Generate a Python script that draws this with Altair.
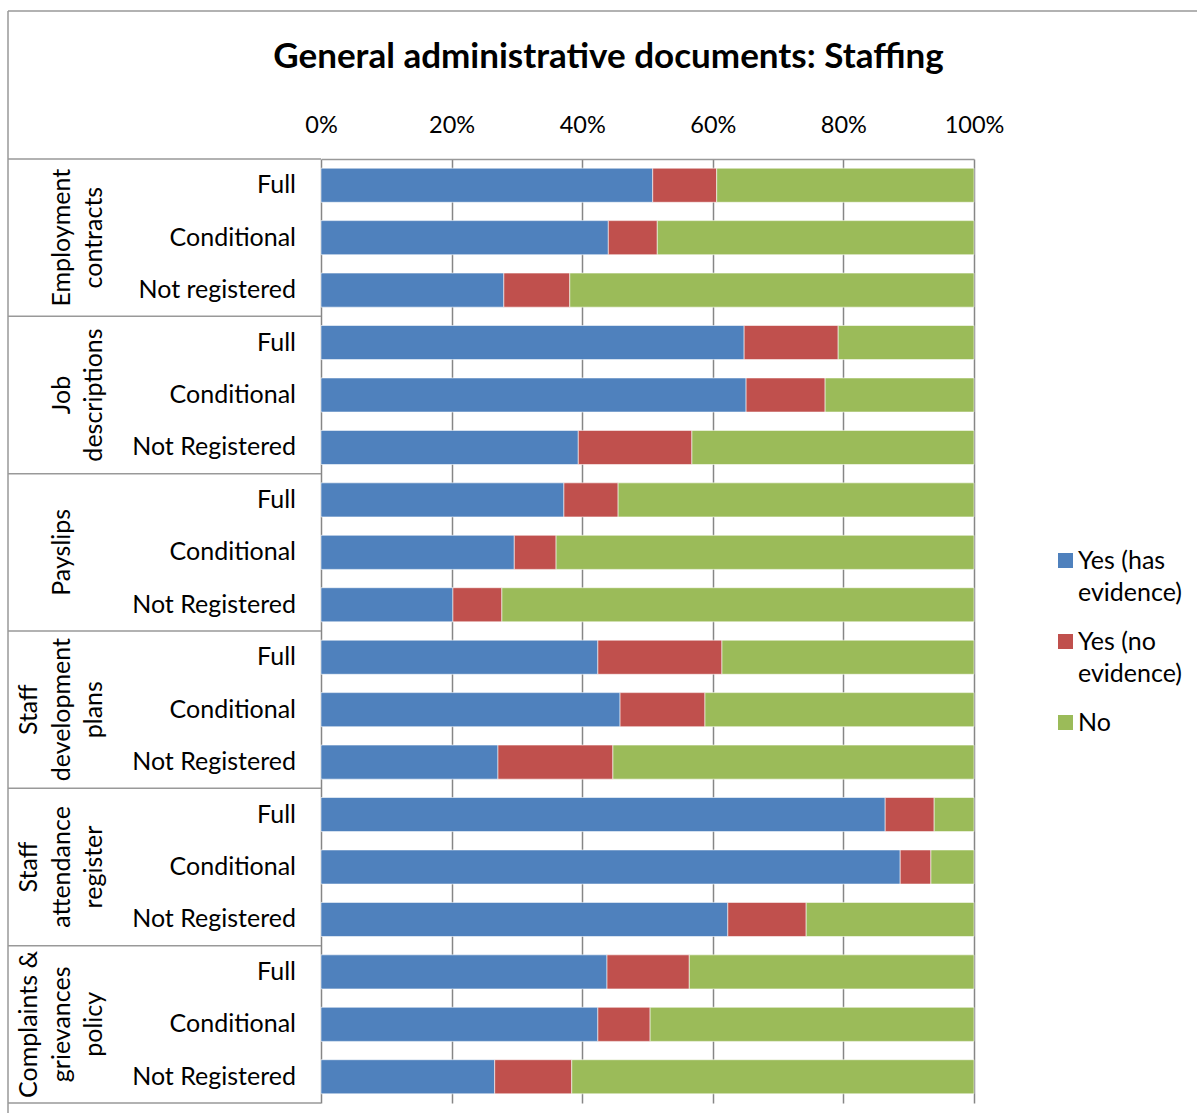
import altair as alt
import pandas as pd

title_text = "General administrative documents: Staffing"
series = ["Yes (has evidence)", "Yes (no evidence)", "No"]
colors = ["#4F81BD", "#C0504D", "#9BBB59"]

# group names, split over lines (padded at the front so the last line sits right)
group_lines = [
    ["", "Employment", "contracts"],
    ["", "Job", "descriptions"],
    ["", "", "Payslips"],
    ["Staff", "development", "plans"],
    ["Staff", "attendance", "register"],
    ["Complaints &", "grievances", "policy"],
]
row_labels = [
    "Full", "Conditional", "Not registered",
    "Full", "Conditional", "Not Registered",
    "Full", "Conditional", "Not Registered",
    "Full", "Conditional", "Not Registered",
    "Full", "Conditional", "Not Registered",
    "Full", "Conditional", "Not Registered",
]
yes_evidence = [50.8, 44.0, 28.0, 64.8, 65.1, 39.4, 37.2, 29.6, 20.2,
                42.4, 45.8, 27.1, 86.4, 88.7, 62.3, 43.8, 42.4, 26.6]
yes_no_evidence = [9.8, 7.5, 10.1, 14.4, 12.1, 17.4, 8.3, 6.4, 7.5,
                   19.0, 13.0, 17.6, 7.5, 4.7, 12.0, 12.6, 8.0, 11.8]
no_values = [39.4, 48.5, 61.9, 20.8, 22.8, 43.2, 54.5, 64.0, 72.3,
             38.6, 41.2, 55.3, 6.1, 6.6, 25.7, 43.6, 49.6, 61.6]
x_ticks = [0, 0.2, 0.4, 0.6, 0.8, 1.0]

FONT = "Lato"
W, H = 653, 944

rows = []
for i, lab in enumerate(row_labels):
    for k, vals in enumerate([yes_evidence, yes_no_evidence, no_values]):
        rows.append({"row": i, "label": lab, "series": series[k], "order": k, "value": vals[i]})
bars_df = pd.DataFrame(rows)
labels_df = pd.DataFrame({"row": list(range(len(row_labels))), "label": row_labels})
groups_df = pd.DataFrame({
    "row": [g * 3 + 1 for g in range(len(group_lines))],
    "first": [g * 3 for g in range(len(group_lines))],
    "last": [g * 3 + 2 for g in range(len(group_lines))],
    "lines": group_lines,
})

yscale = alt.Scale(paddingInner=0, paddingOuter=0, domain=list(range(len(row_labels))))

bars = alt.Chart(bars_df).mark_bar(
    height=alt.RelativeBandSize(0.65), stroke="white", strokeWidth=0.8, strokeOpacity=0.7
).encode(
    y=alt.Y("row:O", scale=yscale, axis=None),
    x=alt.X("value:Q", stack="normalize",
            scale=alt.Scale(domain=[0, 1], nice=False),
            axis=alt.Axis(orient="top", format=".0%", values=x_ticks, grid=True,
                          gridColor="#868686", gridWidth=1.5, ticks=False,
                          domain=True, domainColor="#999999", domainWidth=1.5,
                          labelFont=FONT, labelFontSize=23.5, labelColor="black",
                          labelFlush=False, labelPadding=22, title=None)),
    color=alt.Color("series:N", scale=alt.Scale(domain=series, range=colors),
                    legend=alt.Legend(
                        orient="none", legendX=732, legendY=389, title=None,
                        symbolType="square", symbolSize=225, symbolStrokeWidth=0,
                        labelFont=FONT, labelFontSize=25, labelColor="black",
                        labelOffset=0, labelLimit=300, labelBaseline="middle",
                        rowPadding=23,
                        labelExpr="datum.label == 'Yes (has evidence)' ? ['Yes (has', 'evidence)'] : datum.label == 'Yes (no evidence)' ? ['Yes (no', 'evidence)'] : datum.label")),
    order=alt.Order("order:Q"),
)

row_text = alt.Chart(labels_df).mark_text(
    align="right", baseline="middle", font=FONT, fontSize=25, color="black"
).encode(
    y=alt.Y("row:O", scale=yscale, axis=None),
    x=alt.value(-25),
    text="label:N",
)

group_text = alt.Chart(groups_df).mark_text(
    align="center", baseline="bottom", angle=270, font=FONT, fontSize=25,
    color="black", lineHeight=32.5
).encode(
    y=alt.Y("row:O", scale=yscale, axis=None),
    x=alt.value(-279),
    text="lines",
)

sep_top = alt.Chart(groups_df).mark_rule(color="#999999", strokeWidth=1.5).encode(
    y=alt.Y("first:O", scale=yscale, axis=None, bandPosition=0),
    x=alt.value(-313), x2=alt.value(0),
)
sep_bottom = alt.Chart(groups_df.tail(1)).mark_rule(color="#999999", strokeWidth=1.5).encode(
    y=alt.Y("last:O", scale=yscale, axis=None, bandPosition=1),
    x=alt.value(-313), x2=alt.value(0),
)
frame_left = alt.Chart(groups_df.head(1)).mark_rule(color="#999999", strokeWidth=1.5).encode(
    x=alt.value(-313), y=alt.value(-148), y2=alt.value(H + 10),
)
frame_top = alt.Chart(groups_df.head(1)).mark_rule(color="#999999", strokeWidth=1.5).encode(
    y=alt.value(-148), x=alt.value(-313), x2=alt.value(W + 223),
)

chart = alt.layer(
    frame_left, frame_top, sep_top, sep_bottom, bars, row_text, group_text
).properties(
    width=W, height=H,
    padding={"left": 7, "top": 10, "right": 0, "bottom": 0},
    title=alt.Title(title_text, font=FONT, fontSize=35, fontWeight="bold",
                    color="black", anchor="middle", dx=-39, offset=-65),
).configure(
    style={"guide-label": {"lineHeight": 32}},
    view=alt.ViewConfig(stroke=None),
)

chart.save("out.html", embed_options={"renderer": "svg", "actions": False})
